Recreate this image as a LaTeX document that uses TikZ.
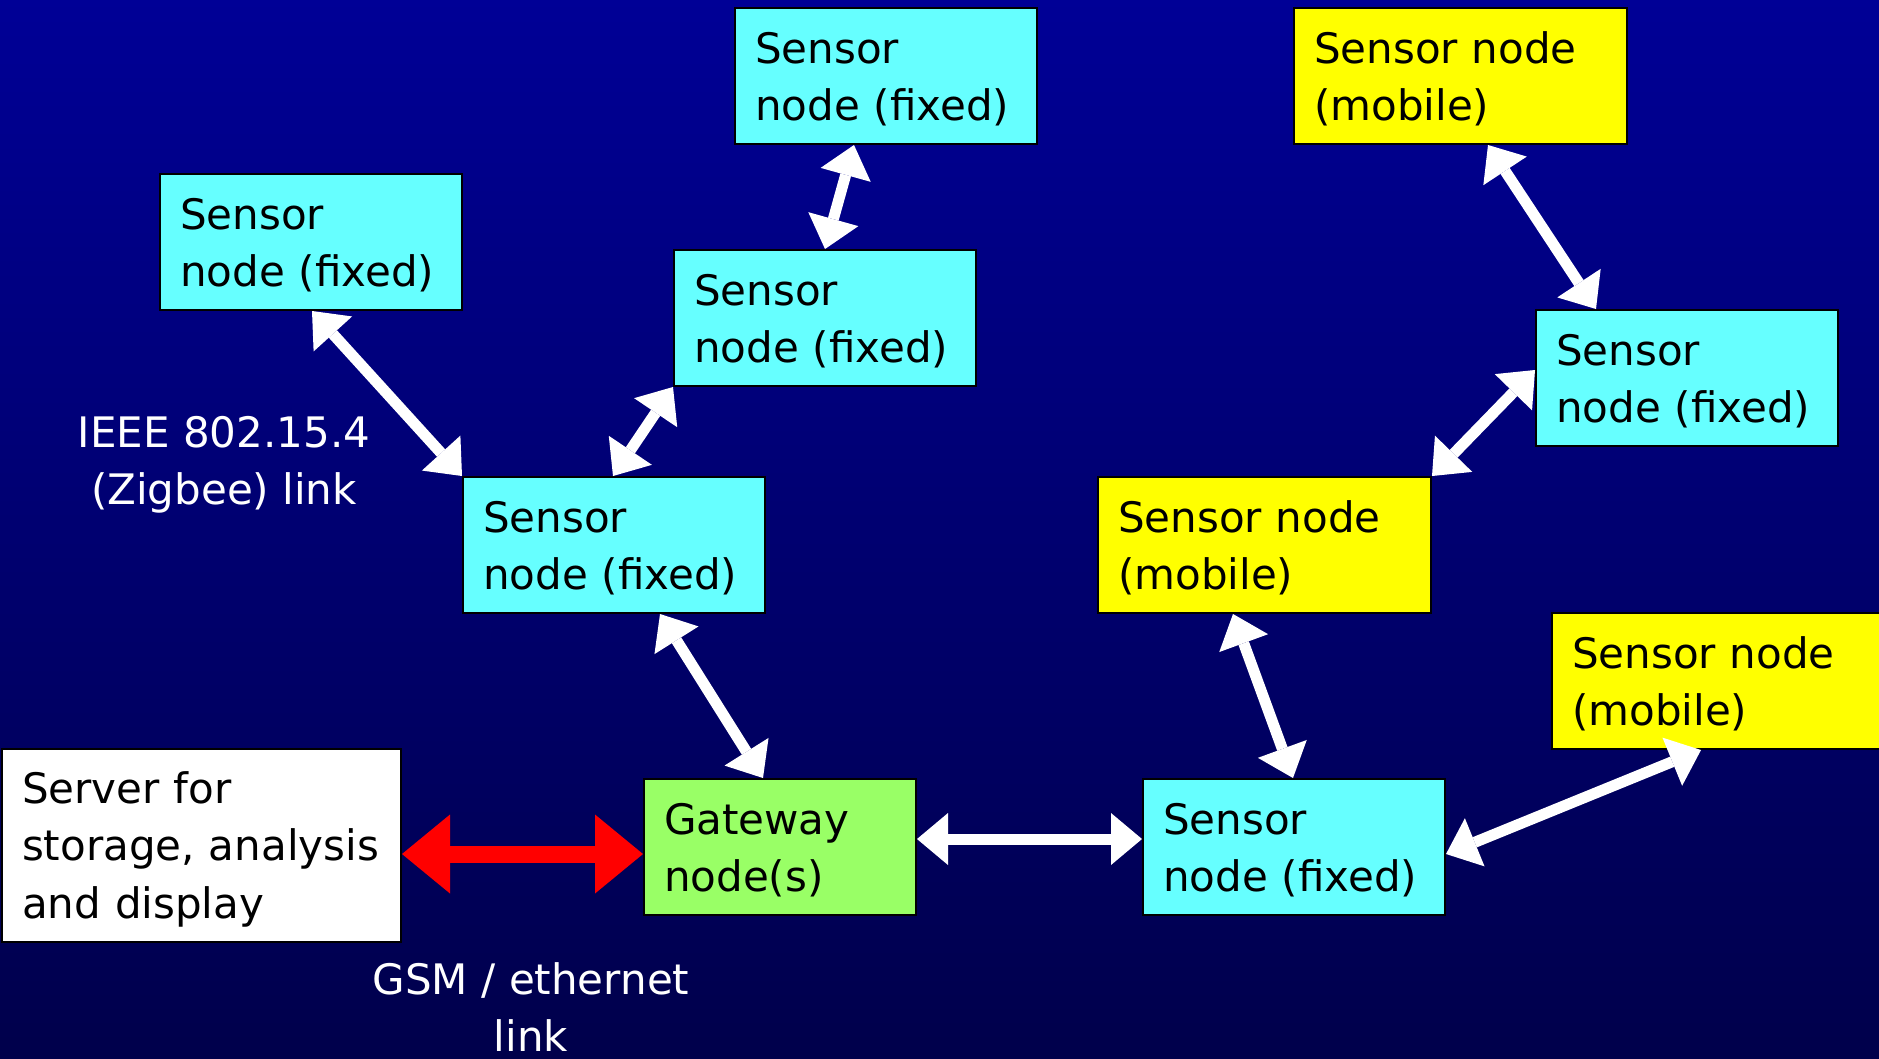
\documentclass[tikz,border=0pt]{standalone}
\usepackage{fontspec}
\setmainfont{DejaVu Sans}
\usetikzlibrary{arrows.meta,calc}
\definecolor{bgtop}{RGB}{0,0,150}
\definecolor{bgbot}{RGB}{0,0,75}
\definecolor{fixedc}{RGB}{102,255,255}
\definecolor{mobilec}{RGB}{255,255,0}
\definecolor{gatec}{RGB}{153,255,102}
\begin{document}
\begin{tikzpicture}[x=1pt,y=-1pt,
  every node/.style={font=\fontsize{42}{57.5}\selectfont},
  box/.style={rectangle, draw=black, line width=2pt, anchor=north west,
    inner xsep=20pt, inner ysep=0pt, align=left,
    text height=37pt, text depth=63pt, minimum height=136pt},
  fixedbox/.style={box, fill=fixedc, text width=262pt},
  mobilebox/.style={box, fill=mobilec, text width=293pt},
  gatebox/.style={box, fill=gatec, text width=232pt},
  serverbox/.style={box, fill=white, text width=359pt, minimum height=193pt,
    text height=40pt, text depth=125pt},
  link/.style={line width=11pt, draw=white,
    {Triangle[length=31pt,width=52pt,line width=0pt]}-{Triangle[length=31pt,width=52pt,line width=0pt]}},
  redlink/.style={line width=17pt, draw=red,
    {Triangle[length=48pt,width=79pt,line width=0pt]}-{Triangle[length=48pt,width=79pt,line width=0pt]}},
  lbl/.style={text=white, align=center, anchor=north, inner sep=0pt}
]
\useasboundingbox (0,0) rectangle (1879,1058);
\shade[top color=bgtop, bottom color=bgbot] (0,0) rectangle (1879,1058);

\node[fixedbox]  (T)  at (734,7)    {Sensor\\node (fixed)};
\node[mobilebox] (TY) at (1293,7)   {Sensor node\\(mobile)};
\node[fixedbox]  (L)  at (159,173)  {Sensor\\node (fixed)};
\node[fixedbox]  (M2) at (673,249)  {Sensor\\node (fixed)};
\node[fixedbox]  (R)  at (1535,309) {Sensor\\node (fixed)};
\node[fixedbox]  (C)  at (462,476)  {Sensor\\node (fixed)};
\node[mobilebox] (MY) at (1097,476) {Sensor node\\(mobile)};
\node[mobilebox] (BY) at (1551,612) {Sensor node\\(mobile)};
\node[gatebox]   (G)  at (643,778)  {Gateway\\node(s)};
\node[fixedbox]  (B)  at (1142,778) {Sensor\\node (fixed)};
\node[serverbox] (S)  at (1,748)    {Server for\\storage, analysis\\and display};

\node[lbl] (zig) at (224,416) {IEEE 802.15.4\\(Zigbee) link};
\node[lbl] (gsm) at (531,962) {GSM / ethernet\\link};

\draw[link] ($(L.south west)+(153,0)$) -- (C.north west);
\draw[link] ($(C.north west)+(151,0)$) -- (M2.south west);
\draw[link] ($(M2.north west)+(152,0)$) -- ($(T.south west)+(120,0)$);
\draw[link] ($(TY.south west)+(195,0)$) -- ($(R.north west)+(61,0)$);
\draw[link] ($(R.west)+(0,-8)$) -- (MY.north east);
\draw[link] ($(MY.south west)+(136,0)$) -- ($(B.north west)+(151,0)$);
\draw[link] ($(B.east)+(0,7)$) -- ($(BY.south west)+(150,0)$);
\draw[link] ($(G.east)+(0,-8)$) -- ($(B.west)+(0,-8)$);
\draw[link] ($(C.south west)+(198,0)$) -- ($(G.north west)+(120,0)$);
\draw[redlink] ($(S.east)+(0,8.5)$) -- ($(G.west)+(0,7)$);
\end{tikzpicture}
\end{document}
